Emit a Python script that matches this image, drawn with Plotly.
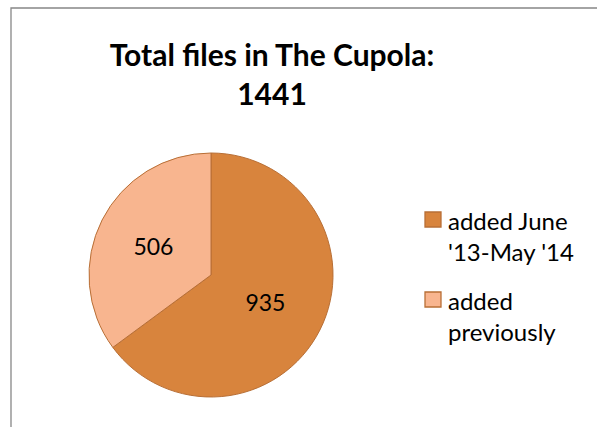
import plotly.graph_objects as go

labels = ["added June<br>'13-May '14", "added<br>previously"]
values = [935, 506]
colors = ["#D8843D", "#F8B58F"]
title_text = "<b>Total files in The Cupola:<br>1441</b>"

W, H = 597, 427
EDGE = "#B86F36"

fig = go.Figure(go.Pie(
    labels=labels,
    values=values,
    sort=False,
    direction="clockwise",
    rotation=0,
    marker=dict(colors=colors, line=dict(color=EDGE, width=1)),
    textinfo="value",
    textposition="inside",
    insidetextorientation="horizontal",
    textfont=dict(family="Lato", size=23, color="#000000"),
    domain=dict(x=[89 / W, 333 / W], y=[1 - 397 / H, 1 - 153 / H]),
    hoverinfo="label+value",
    showlegend=False,
))

shapes = [dict(type="rect", xref="paper", yref="paper",
               x0=11 / W, x1=1.05, y0=-0.05, y1=1 - 8 / H,
               line=dict(color="#878787", width=1.3))]
annotations = []
# legend drawn from labels/colors
for i, (lab, col) in enumerate(zip(labels, colors)):
    top = 212 + 80 * i
    shapes.append(dict(type="rect", xref="paper", yref="paper",
                       x0=425 / W, x1=441 / W, y0=1 - (top + 15) / H, y1=1 - top / H,
                       fillcolor=col, line=dict(color=EDGE, width=1.3)))
    annotations.append(dict(text=lab, xref="paper", yref="paper",
                            x=446 / W, y=1 - (top - 8) / H, xanchor="left", yanchor="top",
                            align="left", showarrow=False,
                            font=dict(family="Lato", size=24, color="#000000")))

fig.update_layout(
    width=W, height=H,
    margin=dict(l=0, r=0, t=0, b=0),
    paper_bgcolor="white",
    plot_bgcolor="white",
    title=dict(text=title_text, x=272 / W, xanchor="center", y=1 - 66 / H, yanchor="top",
               font=dict(family="Lato", size=30, color="#000000")),
    showlegend=False,
    shapes=shapes,
    annotations=annotations,
)

fig.write_html("out.html", config={"displayModeBar": False},
               post_script="document.body.style.margin='0';document.body.style.overflow='hidden';")
